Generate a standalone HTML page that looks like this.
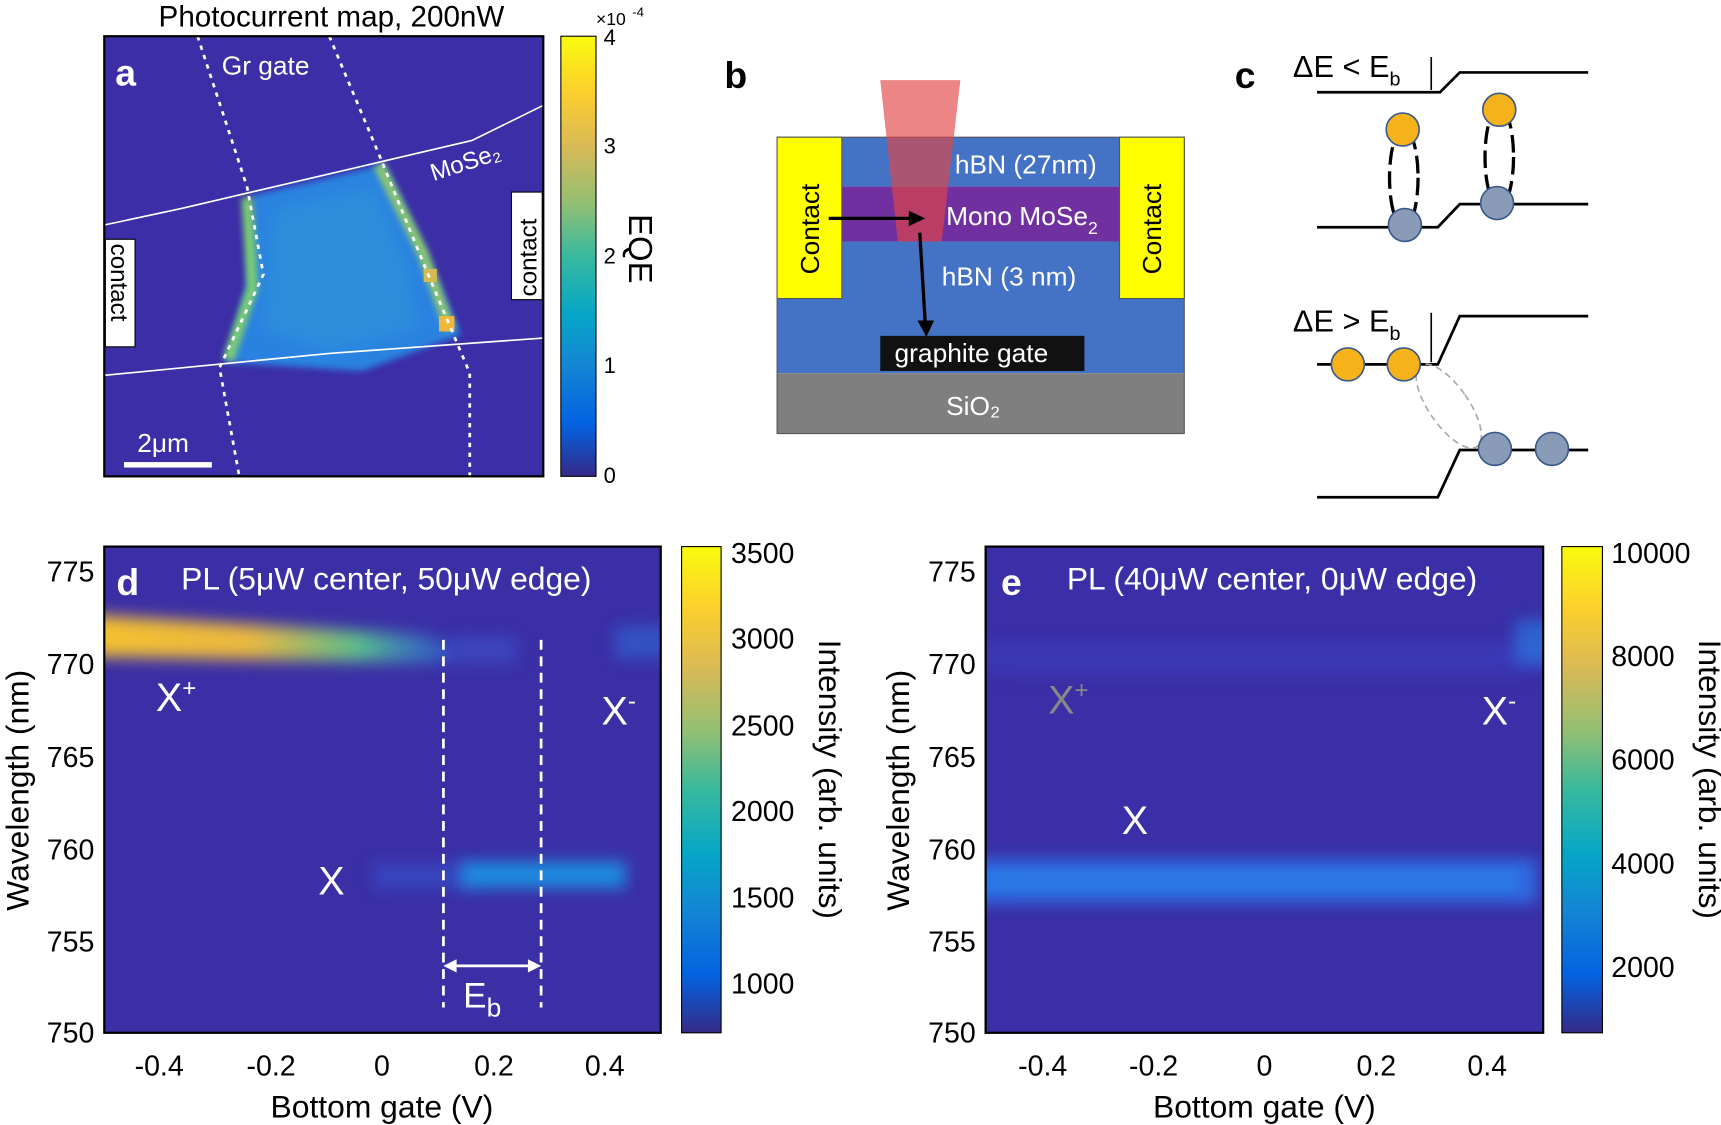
<!DOCTYPE html>
<html><head><meta charset="utf-8"><style>
html,body{margin:0;padding:0;background:#fff}
svg{display:block}
text{font-family:"Liberation Sans",Arial,sans-serif}
</style></head><body>
<svg width="1721" height="1125" viewBox="0 0 1568 1025" xmlns="http://www.w3.org/2000/svg">
<defs>
<linearGradient id="par" x1="0" y1="1" x2="0" y2="0">
<stop offset="0" stop-color="#352a87"/><stop offset="0.12" stop-color="#0363e1"/>
<stop offset="0.25" stop-color="#1485d4"/><stop offset="0.37" stop-color="#06a7c6"/>
<stop offset="0.5" stop-color="#38b99e"/><stop offset="0.62" stop-color="#92bf73"/>
<stop offset="0.75" stop-color="#d9ba56"/><stop offset="0.87" stop-color="#fcce2e"/>
<stop offset="1" stop-color="#f9fb0e"/></linearGradient>
<linearGradient id="xp" x1="0" y1="0" x2="1" y2="0">
<stop offset="0" stop-color="#f5c030"/><stop offset="0.45" stop-color="#e9b840"/>
<stop offset="0.75" stop-color="#59bc8c"/><stop offset="1" stop-color="#2a7be0" stop-opacity="0.5"/></linearGradient>
<filter id="bl" filterUnits="userSpaceOnUse" x="0" y="0" width="1568" height="1025"><feGaussianBlur stdDeviation="7"/></filter>
<filter id="bl2" filterUnits="userSpaceOnUse" x="0" y="0" width="1568" height="1025"><feGaussianBlur stdDeviation="3"/></filter>
<clipPath id="cd"><rect x="95" y="498" width="507" height="443"/></clipPath>
<clipPath id="ce"><rect x="898" y="498" width="508" height="443"/></clipPath>
<clipPath id="ca"><rect x="95" y="33" width="400" height="401"/></clipPath>
</defs>

<!-- Panel a -->
<text x="302" y="24" font-size="27" text-anchor="middle">Photocurrent map, 200nW</text>
<rect x="95" y="33" width="400" height="401" fill="#3b2ea6"/>
<g clip-path="url(#ca)">
<polygon points="230,178 350,150 385,225 420,305 330,338 205,330 225,262" fill="#2a82e0" filter="url(#bl2)"/>
<polygon points="250,190 340,170 370,240 380,300 300,320 240,300" fill="#2f96d8" opacity="0.6" filter="url(#bl)"/>
<path d="M225,180 L230,262 L208,328" stroke="#7ccf70" stroke-width="10" fill="none" filter="url(#bl2)"/>
<path d="M345,150 L385,230 L410,300" stroke="#8cc870" stroke-width="10" fill="none" filter="url(#bl2)"/>
<rect x="400" y="288" width="14" height="14" fill="#f0b838"/>
<rect x="386" y="245" width="12" height="12" fill="#d6bb50"/>
<polyline points="95,205 165,190 430,128 495,96" stroke="#fff" stroke-width="1.5" fill="none"/>
<polyline points="95,342 300,322 495,308" stroke="#fff" stroke-width="1.5" fill="none"/>
<polyline points="180,33 225,170 240,250 200,335 218,434" stroke="#fff" stroke-width="2.5" stroke-dasharray="4,5" fill="none"/>
<polyline points="300,33 345,140 390,250 428,340 428,434" stroke="#fff" stroke-width="2.5" stroke-dasharray="4,5" fill="none"/>
</g>
<rect x="95" y="33" width="400" height="401" fill="none" stroke="#000" stroke-width="2"/>
<text x="105" y="78" font-size="34" font-weight="bold" fill="#fff">a</text>
<text x="202" y="68" font-size="24" fill="#fff">Gr gate</text>
<text x="395" y="165" font-size="22" fill="#fff" transform="rotate(-18 395 165)">MoSe₂</text>
<rect x="96" y="218" width="27" height="98" fill="#fff" stroke="#000"/>
<text x="0" y="0" font-size="22" transform="translate(101,222) rotate(90)">contact</text>
<rect x="466" y="175" width="28" height="98" fill="#fff" stroke="#000"/>
<text x="0" y="0" font-size="22" transform="translate(489,270) rotate(-90)">contact</text>
<text x="125" y="412" font-size="24" fill="#fff">2μm</text>
<rect x="113" y="421" width="80" height="5" fill="#fff"/>
<rect x="511" y="33" width="32" height="401" fill="url(#par)" stroke="#000"/>
<g font-size="20"><text x="550" y="440">0</text><text x="550" y="340">1</text><text x="550" y="240">2</text><text x="550" y="140">3</text><text x="550" y="41">4</text></g>
<text x="543" y="23" font-size="16">×10</text><text x="576" y="15" font-size="12">-4</text>
<text x="0" y="0" font-size="30" transform="translate(573,195) rotate(90)">EQE</text>

<!-- Panel b -->
<text x="660" y="80" font-size="34" font-weight="bold">b</text>
<rect x="708" y="125" width="371" height="45" fill="#4472c4"/>
<rect x="708" y="170" width="371" height="50" fill="#7030a0"/>
<rect x="708" y="220" width="371" height="120" fill="#4472c4"/>
<rect x="708" y="340" width="371" height="55" fill="#7f7f7f"/>
<rect x="708" y="125" width="371" height="270" fill="none" stroke="#555" stroke-width="1"/>
<rect x="708" y="125" width="59" height="147" fill="#ffff00" stroke="#555"/>
<rect x="1020" y="125" width="59" height="147" fill="#ffff00" stroke="#555"/>
<rect x="802" y="306" width="186" height="32" fill="#111"/>
<polygon points="802,73 875,73 858,220 818,220" fill="#e24545" opacity="0.65"/>
<text x="0" y="0" font-size="24" transform="translate(746,250) rotate(-90)">Contact</text>
<text x="0" y="0" font-size="24" transform="translate(1058,250) rotate(-90)">Contact</text>
<text x="870" y="158" font-size="24" fill="#fff">hBN (27nm)</text>
<text x="862" y="205" font-size="24" fill="#fff">Mono MoSe<tspan font-size="16" dy="8">2</tspan></text>
<text x="858" y="260" font-size="24" fill="#fff">hBN (3 nm)</text>
<text x="815" y="330" font-size="24" fill="#fff">graphite gate</text>
<text x="862" y="378" font-size="24" fill="#fff">SiO₂</text>
<line x1="755" y1="199" x2="832" y2="199" stroke="#000" stroke-width="3"/>
<polygon points="843,199 828,192 828,206" fill="#000"/>
<line x1="838" y1="212" x2="843" y2="295" stroke="#000" stroke-width="3"/>
<polygon points="844,307 836,292 851,292" fill="#000"/>

<!-- Panel c -->
<text x="1125" y="80" font-size="34" font-weight="bold">c</text>
<text x="1178" y="70" font-size="28">ΔE &lt; E<tspan font-size="18" dy="8">b</tspan></text>
<polyline points="1200,84 1312,84 1330,66 1447,66" stroke="#000" stroke-width="2.5" fill="none"/>
<polyline points="1200,207 1310,207 1330,186 1447,186" stroke="#000" stroke-width="2.5" fill="none"/>
<line x1="1304" y1="52" x2="1304" y2="82" stroke="#000" stroke-width="1.5"/>
<ellipse cx="1279" cy="162" rx="13" ry="45" fill="none" stroke="#000" stroke-width="3" stroke-dasharray="16,6"/>
<ellipse cx="1366" cy="143" rx="13" ry="45" fill="none" stroke="#000" stroke-width="3" stroke-dasharray="16,6"/>
<circle cx="1278" cy="118" r="15" fill="#f5b21b" stroke="#3a5a8a" stroke-width="1.5"/>
<circle cx="1366" cy="100" r="15" fill="#f5b21b" stroke="#3a5a8a" stroke-width="1.5"/>
<circle cx="1280" cy="205" r="15" fill="#8a9bb8" stroke="#3a5a8a" stroke-width="1.5"/>
<circle cx="1364" cy="185" r="15" fill="#8a9bb8" stroke="#3a5a8a" stroke-width="1.5"/>
<text x="1178" y="302" font-size="28">ΔE &gt; E<tspan font-size="18" dy="8">b</tspan></text>
<polyline points="1200,332 1310,332 1330,288 1447,288" stroke="#000" stroke-width="2.5" fill="none"/>
<polyline points="1200,453 1310,453 1330,410 1447,410" stroke="#000" stroke-width="2.5" fill="none"/>
<line x1="1304" y1="285" x2="1304" y2="330" stroke="#000" stroke-width="1.5"/>
<ellipse cx="1320" cy="370" rx="18" ry="45" transform="rotate(-35 1320 370)" fill="none" stroke="#aaa" stroke-width="1.5" stroke-dasharray="6,4"/>
<circle cx="1228" cy="332" r="15" fill="#f5b21b" stroke="#3a5a8a" stroke-width="1.5"/>
<circle cx="1279" cy="332" r="15" fill="#f5b21b" stroke="#3a5a8a" stroke-width="1.5"/>
<circle cx="1362" cy="409" r="15" fill="#8a9bb8" stroke="#3a5a8a" stroke-width="1.5"/>
<circle cx="1414" cy="409" r="15" fill="#8a9bb8" stroke="#3a5a8a" stroke-width="1.5"/>

<!-- Panel d -->
<rect x="95" y="498" width="507" height="443" fill="#3b2fa5"/>
<g clip-path="url(#cd)">
<path d="M80,560 L380,578 L410,585 L410,604 L380,604 L80,598 Z" fill="url(#xp)" filter="url(#bl)"/>
<rect x="410" y="580" width="60" height="24" fill="#3d55d0" opacity="0.6" filter="url(#bl)"/>
<rect x="560" y="570" width="50" height="30" fill="#2f6ad8" opacity="0.6" filter="url(#bl)"/>
<rect x="340" y="787" width="90" height="22" fill="#3655d2" opacity="0.6" filter="url(#bl)"/>
<rect x="420" y="785" width="150" height="24" fill="#1f8ce0" filter="url(#bl)"/>
</g>
<line x1="404" y1="583" x2="404" y2="918" stroke="#fff" stroke-width="2.5" stroke-dasharray="9,6"/>
<line x1="493" y1="583" x2="493" y2="918" stroke="#fff" stroke-width="2.5" stroke-dasharray="9,6"/>
<line x1="412" y1="880" x2="485" y2="880" stroke="#fff" stroke-width="2.5"/>
<polygon points="404,880 416,874 416,886" fill="#fff"/><polygon points="493,880 481,874 481,886" fill="#fff"/>
<text x="422" y="918" font-size="32" fill="#fff">E<tspan font-size="24" dy="8">b</tspan></text>
<rect x="95" y="498" width="507" height="443" fill="none" stroke="#000" stroke-width="2"/>
<text x="106" y="542" font-size="34" font-weight="bold" fill="#fff">d</text>
<text x="165" y="537" font-size="29" fill="#fff">PL (5μW center, 50μW edge)</text>
<text x="142" y="648" font-size="36" fill="#fff">X<tspan font-size="22" dy="-14">+</tspan></text>
<text x="548" y="660" font-size="36" fill="#fff">X<tspan font-size="22" dy="-14">-</tspan></text>
<text x="290" y="815" font-size="36" fill="#fff">X</text>
<g font-size="26" text-anchor="end"><text x="86" y="530">775</text><text x="86" y="614">770</text><text x="86" y="699">765</text><text x="86" y="783">760</text><text x="86" y="867">755</text><text x="86" y="950">750</text></g>
<g font-size="26" text-anchor="middle"><text x="145" y="980">-0.4</text><text x="247" y="980">-0.2</text><text x="348" y="980">0</text><text x="450" y="980">0.2</text><text x="551" y="980">0.4</text></g>
<text x="348" y="1018" font-size="29" text-anchor="middle">Bottom gate (V)</text>
<text x="0" y="0" font-size="29" text-anchor="middle" transform="translate(26,720) rotate(-90)">Wavelength (nm)</text>
<rect x="621" y="498" width="36" height="443" fill="url(#par)" stroke="#000"/>
<g font-size="26"><text x="666" y="513">3500</text><text x="666" y="591">3000</text><text x="666" y="670">2500</text><text x="666" y="748">2000</text><text x="666" y="827">1500</text><text x="666" y="905">1000</text></g>
<text x="0" y="0" font-size="29" text-anchor="middle" transform="translate(746,710) rotate(90)">Intensity (arb. units)</text>

<!-- Panel e -->
<rect x="898" y="498" width="508" height="443" fill="#3a2fa6"/>
<g clip-path="url(#ce)">
<rect x="880" y="585" width="540" height="28" fill="#3c3cc0" opacity="0.6" filter="url(#bl)"/>
<rect x="1380" y="565" width="40" height="40" fill="#2a78e0" opacity="0.7" filter="url(#bl)"/>
<rect x="880" y="783" width="520" height="40" fill="#2d6ce2" filter="url(#bl)"/>
<rect x="880" y="792" width="500" height="20" fill="#2b7be6" opacity="0.7" filter="url(#bl2)"/>
</g>
<rect x="898" y="498" width="508" height="443" fill="none" stroke="#000" stroke-width="2"/>
<text x="912" y="542" font-size="34" font-weight="bold" fill="#fff">e</text>
<text x="972" y="537" font-size="29" fill="#fff">PL (40μW center, 0μW edge)</text>
<text x="955" y="650" font-size="36" fill="#888">X<tspan font-size="22" dy="-14">+</tspan></text>
<text x="1350" y="660" font-size="36" fill="#fff">X<tspan font-size="22" dy="-14">-</tspan></text>
<text x="1022" y="760" font-size="36" fill="#fff">X</text>
<g font-size="26" text-anchor="end"><text x="889" y="530">775</text><text x="889" y="614">770</text><text x="889" y="699">765</text><text x="889" y="783">760</text><text x="889" y="867">755</text><text x="889" y="950">750</text></g>
<g font-size="26" text-anchor="middle"><text x="950" y="980">-0.4</text><text x="1051" y="980">-0.2</text><text x="1152" y="980">0</text><text x="1254" y="980">0.2</text><text x="1355" y="980">0.4</text></g>
<text x="1152" y="1018" font-size="29" text-anchor="middle">Bottom gate (V)</text>
<text x="0" y="0" font-size="29" text-anchor="middle" transform="translate(828,720) rotate(-90)">Wavelength (nm)</text>
<rect x="1423" y="498" width="37" height="443" fill="url(#par)" stroke="#000"/>
<g font-size="26"><text x="1468" y="513">10000</text><text x="1468" y="607">8000</text><text x="1468" y="701">6000</text><text x="1468" y="796">4000</text><text x="1468" y="890">2000</text></g>
<text x="0" y="0" font-size="29" text-anchor="middle" transform="translate(1548,710) rotate(90)">Intensity (arb. units)</text>
</svg>
</body></html>
